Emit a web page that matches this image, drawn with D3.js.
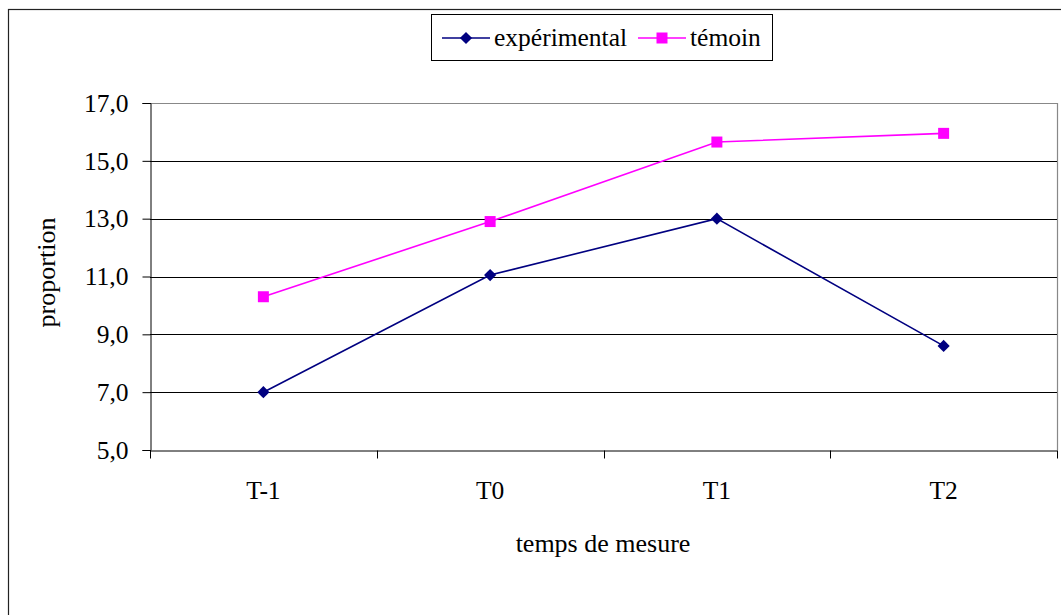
<!DOCTYPE html>
<html>
<head>
<meta charset="utf-8">
<script src="https://cdn.jsdelivr.net/npm/d3@7"></script>
<style>
  body { margin: 0; background: #fff; }
  text { font-family: "Liberation Serif", "Times New Roman", serif; fill: #000; }
</style>
</head>
<body>
<div id="chart"></div>
<script>
// data
const categories = ["T-1", "T0", "T1", "T2"];
const experimental = [7.0, 11.05, 13.0, 8.6];
const temoin = [10.3, 12.9, 15.65, 15.95];
const yTicks = [5, 7, 9, 11, 13, 15, 17];

const series = [
    { name: "expérimental", values: experimental, color: "#000080", marker: "diamond" },
    { name: "témoin", values: temoin, color: "#ff00ff", marker: "square" }
];

const width = 1061, height = 615;
const plot = { left: 150, top: 103, right: 1057, bottom: 450 };

const svg = d3.select("#chart")
    .append("svg")
    .attr("width", width)
    .attr("height", height);

// outer chart border (right/bottom fall outside the picture)
svg.append("rect")
    .attr("x", 8.5).attr("y", 9.5)
    .attr("width", 1070).attr("height", 620)
    .attr("fill", "none")
    .attr("stroke", "#222")
    .attr("stroke-width", 1.2);

const x = d3.scaleBand()
    .domain(categories)
    .range([plot.left, plot.right]);

const y = d3.scaleLinear()
    .domain([5, 17])
    .range([plot.bottom, plot.top]);

// markers: square, and square turned 45deg for the diamond
function addMarker(sel, kind, color) {
    sel.append("path")
        .attr("d", d3.symbol().type(d3.symbolSquare).size(kind === "square" ? 121 : 74)())
        .attr("transform", kind === "square" ? null : "rotate(45)")
        .attr("fill", color);
}

// plot frame top/right (grey)
svg.append("path")
    .attr("d", `M${plot.left},${plot.top + 0.5}H${plot.right + 0.5}V${plot.bottom}`)
    .attr("fill", "none")
    .attr("stroke", "#888")
    .attr("stroke-width", 1.2);

// gridlines
svg.append("g")
    .selectAll("line")
    .data(yTicks.filter(d => d !== 5 && d !== 17))
    .enter().append("line")
    .attr("x1", plot.left).attr("x2", plot.right)
    .attr("y1", d => Math.round(y(d)) + 0.5)
    .attr("y2", d => Math.round(y(d)) + 0.5)
    .attr("stroke", "#000")
    .attr("stroke-width", 1);

// y axis
const yAxis = d3.axisLeft(y)
    .tickValues(yTicks)
    .tickSize(8)
    .tickPadding(14)
    .tickFormat(d => d3.format(".1f")(d).replace(".", ","));

const gy = svg.append("g")
    .attr("transform", `translate(${plot.left + 0.5},0)`)
    .call(yAxis);
gy.selectAll("text").style("font-size", "25.5px").attr("font-family", null);
gy.selectAll("line, path").attr("stroke", "#000");

// x axis, ticks between categories
const xAxis = d3.axisBottom(x).tickSize(0).tickPadding(30);
const gx = svg.append("g")
    .attr("transform", `translate(0,${plot.bottom + 0.5})`)
    .call(xAxis);
gx.select(".domain").attr("stroke", "#000");
gx.selectAll("text").style("font-size", "25.5px").attr("font-family", null);

const bounds = categories.map(c => x(c)).concat([plot.right]);
gx.append("g")
    .selectAll("line")
    .data(bounds)
    .enter().append("line")
    .attr("x1", d => Math.round(d) + 0.5).attr("x2", d => Math.round(d) + 0.5)
    .attr("y1", 0).attr("y2", 8)
    .attr("stroke", "#000");

// axis titles
svg.append("text")
    .attr("x", 603)
    .attr("y", 552)
    .attr("text-anchor", "middle")
    .style("font-size", "26px")
    .text("temps de mesure");

svg.append("text")
    .attr("transform", `translate(55,${(plot.top + plot.bottom) / 2 - 4}) rotate(-90)`)
    .attr("text-anchor", "middle")
    .style("font-size", "26px")
    .text("proportion");

// lines and markers
const line = d3.line()
    .x((d, i) => x(categories[i]) + x.bandwidth() / 2)
    .y(d => y(d));

series.forEach(s => {
    svg.append("path")
        .datum(s.values)
        .attr("d", line)
        .attr("fill", "none")
        .attr("stroke", s.color)
        .attr("stroke-width", 1.6);

    svg.append("g")
        .selectAll("g")
        .data(s.values)
        .enter().append("g")
        .attr("transform", (d, i) => `translate(${x(categories[i]) + x.bandwidth() / 2},${y(d)})`)
        .each(function() { addMarker(d3.select(this), s.marker, s.color); });
});

// legend
const legend = svg.append("g");
legend.append("rect")
    .attr("x", 431.5).attr("y", 14.5)
    .attr("width", 341).attr("height", 46)
    .attr("fill", "#fff")
    .attr("stroke", "#000")
    .attr("stroke-width", 1);

const legendX = [442, 638];
series.forEach((s, i) => {
    const g = legend.append("g").attr("transform", `translate(${legendX[i]},38)`);
    g.append("line")
        .attr("x1", 0).attr("x2", 48)
        .attr("stroke", s.color)
        .attr("stroke-width", 1.6);
    addMarker(g.append("g").attr("transform", "translate(24,0)"), s.marker, s.color);
    g.append("text")
        .attr("x", 52)
        .attr("dy", "0.33em")
        .style("font-size", "25.5px")
        .text(s.name);
});
</script>
</body>
</html>
